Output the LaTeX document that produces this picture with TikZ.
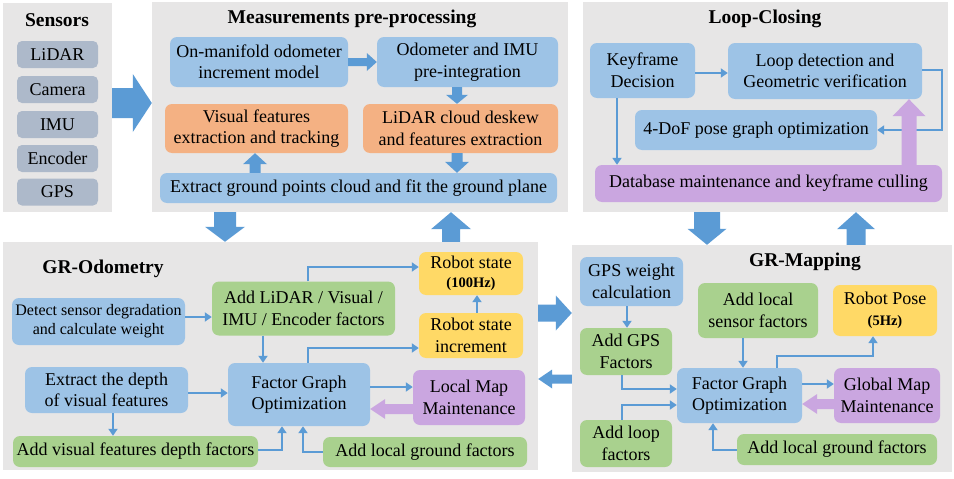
\documentclass[tikz,border=0pt]{standalone}
\usepackage{fontspec}
\setmainfont{Liberation Serif}
\usetikzlibrary{calc,arrows.meta}
\definecolor{panelgray}{HTML}{E7E6E6}
\definecolor{boxblue}{HTML}{9DC3E6}
\definecolor{boxorange}{HTML}{F4B183}
\definecolor{boxgreen}{HTML}{A9D18E}
\definecolor{boxyellow}{HTML}{FFD966}
\definecolor{boxpurple}{HTML}{CAA6E0}
\definecolor{sensorbox}{HTML}{ADB9CA}
\definecolor{arrowblue}{HTML}{5B9BD5}
\newcommand\bigarrow[6]{% #1 colour, #2 from, #3 to, #4 half shaft, #5 half head, #6 head length
  \coordinate (baA) at (#2);
  \coordinate (baB) at (#3);
  \coordinate (baC) at ($(baB)!#6!(baA)$);
  \fill[#1] ($(baA)!#4!90:(baB)$) -- ($(baC)!#4!90:(baB)$) -- ($(baC)!#5!90:(baB)$)
    -- (baB) -- ($(baC)!#5!-90:(baB)$) -- ($(baC)!#4!-90:(baB)$) -- ($(baA)!#4!-90:(baB)$) -- cycle;
}
\tikzset{
  panelbg/.style={fill=panelgray, draw=none, inner sep=0pt},
  ttl/.style={font=\bfseries\fontsize{19.5}{22}\selectfont, inner sep=0pt},
  bx/.style={rounded corners=7pt, inner sep=1pt, align=center, draw=none,
    font=\fontsize{18}{21.5}\selectfont},
  bluebx/.style={bx, fill=boxblue},
  orangebx/.style={bx, fill=boxorange},
  greenbx/.style={bx, fill=boxgreen},
  yellowbx/.style={bx, fill=boxyellow},
  purplebx/.style={bx, fill=boxpurple},
  sensbx/.style={bx, fill=sensorbox, rounded corners=5pt, minimum width=81pt, minimum height=27pt},
  conn/.style={draw=arrowblue, line width=2.4pt, -{Triangle[length=7pt,width=9pt]}},
}
\begin{document}
\begin{tikzpicture}[x=1pt,y=-1pt]
\useasboundingbox (0,0) rectangle (954,479);
\fill[white] (0,0) rectangle (954,479);

% ---------------- panels
\node[panelbg, minimum width=109pt, minimum height=209pt] (sens) at (57.5,107.5) {};
\node[panelbg, minimum width=416pt, minimum height=210pt] (mp) at (360,107) {};
\node[panelbg, minimum width=365pt, minimum height=210pt] (lc) at (765.5,107) {};
\node[panelbg, minimum width=535pt, minimum height=228pt] (odo) at (270.5,356) {};
\node[panelbg, minimum width=380pt, minimum height=227pt] (map) at (762,358.5) {};

% ---------------- titles
\node[ttl] (tsens) at (57,20) {Sensors};
\node[ttl] (tmp) at (352,19) {Measurements pre-processing};
\node[ttl] (tlc) at (765,19) {Loop-Closing};
\node[ttl] (todo) at (103,269) {GR-Odometry};
\node[ttl] (tmap) at (805,262) {GR-Mapping};

% ---------------- sensors
\node[sensbx] (lidar) at (57.5,54.5) {LiDAR};
\node[sensbx] (camera) at (57.5,89.5) {Camera};
\node[sensbx] (imu) at (57.5,124.5) {IMU};
\node[sensbx] (enc) at (57.5,158.5) {Encoder};
\node[sensbx] (gps) at (57.5,192) {GPS};

% ---------------- measurements pre-processing
\node[bluebx, minimum width=178pt, minimum height=50pt] (onm) at (259,62) {On-manifold odometer\\increment model};
\node[bluebx, minimum width=181pt, minimum height=50pt] (odoimu) at (467.5,62) {Odometer and IMU\\pre-integration};
\node[orangebx, minimum width=183pt, minimum height=49pt] (vis) at (256.5,128.5) {Visual features\\extraction and tracking};
\node[orangebx, minimum width=195pt, minimum height=49pt] (lid) at (460.5,128.5) {LiDAR cloud deskew\\and features extraction};
\node[bluebx, minimum width=397pt, minimum height=30pt] (ext) at (358.5,188) {Extract ground points cloud and fit the ground plane};

\bigarrow{arrowblue}{onm.east |- 0,62}{odoimu.west |- 0,62}{4pt}{9pt}{10pt}
\bigarrow{arrowblue}{odoimu.south -| 457,0}{lid.north -| 457,0}{5pt}{11pt}{9pt}
\bigarrow{arrowblue}{lid.south -| 457,0}{ext.north -| 457,0}{5.5pt}{12pt}{11pt}
\bigarrow{arrowblue}{ext.north -| 255,0}{vis.south -| 255,0}{5.5pt}{12pt}{11pt}

% ---------------- loop closing
\node[bluebx, minimum width=105pt, minimum height=55pt] (key) at (642.5,70.5) {Keyframe\\Decision};
\node[bluebx, minimum width=194pt, minimum height=56pt] (loop) at (825,71) {Loop detection and\\Geometric verification};
\node[bluebx, minimum width=242pt, minimum height=40pt] (dof) at (756,130) {4-DoF pose graph optimization};
\node[purplebx, minimum width=347pt, minimum height=37pt] (db) at (768.5,183.5) {Database maintenance and keyframe culling};

\draw[conn] (key.east |- 0,73) -- (loop.west |- 0,73);
\draw[conn] (loop.east |- 0,70) -- (db.east |- 0,70) |- (dof.east |- 0,130);
\draw[conn] (key.south -| 617,0) -- (db.north -| 617,0);
\bigarrow{boxpurple}{db.north -| 909,0}{loop.south -| 909,0}{7.5pt}{16.5pt}{17pt}

% ---------------- GR-Odometry
\node[bluebx, minimum width=173pt, minimum height=47pt, font=\fontsize{16}{19}\selectfont] (det) at (98.5,321.5) {Detect sensor degradation\\and calculate weight};
\node[greenbx, minimum width=183pt, minimum height=54pt] (addl) at (303.5,308.5) {Add LiDAR / Visual /\\IMU / Encoder factors};
\node[bluebx, minimum width=163pt, minimum height=46pt] (dep) at (106.5,390) {Extract the depth\\of visual features};
\node[bluebx, minimum width=142pt, minimum height=63pt] (fgoa) at (299,394.5) {Factor Graph\\Optimization};
\node[greenbx, minimum width=245pt, minimum height=31pt] (vdf) at (135.5,451.5) {Add visual features depth factors};
\node[yellowbx, minimum width=104pt, minimum height=43pt] (rs) at (471,273.5) {Robot state\\[-3pt]{\bfseries\fontsize{14.5}{17}\selectfont (100Hz)}};
\node[yellowbx, minimum width=104pt, minimum height=45pt] (rsi) at (471,335.5) {Robot state\\increment};
\node[purplebx, minimum width=112pt, minimum height=55pt] (lmm) at (469,397.5) {Local Map\\Maintenance};
\node[greenbx, minimum width=204pt, minimum height=30pt] (lgfa) at (425,452) {Add local ground factors};

\draw[conn] (det.east |- 0,317) -- (addl.west |- 0,317);
\draw[conn] (dep.east |- 0,393) -- (fgoa.west |- 0,393);
\draw[conn] (dep.south -| 113,0) -- (vdf.north -| 113,0);
\draw[conn] (vdf.east |- 0,450) -| (fgoa.south -| 282,0);
\draw[conn] (addl.south -| 263,0) -- (fgoa.north -| 263,0);
\draw[conn] (addl.north -| 308,0) |- (rs.west |- 0,267);
\draw[conn] (fgoa.north -| 308,0) |- (rsi.west |- 0,348);
\draw[conn] (rsi.north -| 477,0) -- (rs.south -| 477,0);
\draw[conn] (fgoa.east |- 0,387) -- (lmm.west |- 0,387);
\draw[conn] (lgfa.west |- 0,452) -| (fgoa.south -| 303,0);
\bigarrow{boxpurple}{lmm.west |- 0,409}{fgoa.east |- 0,409}{5pt}{10pt}{15pt}

% ---------------- GR-Mapping
\node[bluebx, minimum width=103pt, minimum height=49pt] (gpsw) at (631.5,281.5) {GPS weight\\calculation};
\node[greenbx, minimum width=92pt, minimum height=47pt] (agps) at (626,351.5) {Add GPS\\Factors};
\node[greenbx, minimum width=92pt, minimum height=47pt] (aloop) at (626,443.5) {Add loop\\factors};
\node[greenbx, minimum width=120pt, minimum height=55pt] (als) at (758,310.5) {Add local\\sensor factors};
\node[yellowbx, minimum width=104pt, minimum height=51pt] (rp) at (885,310.5) {Robot Pose\\[-1pt]{\bfseries\fontsize{14.5}{17}\selectfont (5Hz)}};
\node[bluebx, minimum width=125pt, minimum height=55pt] (fgob) at (739.5,395.5) {Factor Graph\\Optimization};
\node[purplebx, minimum width=106pt, minimum height=55pt] (gmm) at (887,395.5) {Global Map\\Maintenance};
\node[greenbx, minimum width=200pt, minimum height=31pt] (lgfb) at (837,449.5) {Add local ground factors};

\draw[conn] (gpsw.south -| 627,0) -- (agps.north -| 627,0);
\draw[conn] (agps.south -| 622,0) |- (fgob.west |- 0,389);
\draw[conn] (aloop.north -| 622,0) |- (fgob.west |- 0,405);
\draw[conn] (als.south -| 743,0) -- (fgob.north -| 743,0);
\draw[conn] (fgob.north -| 777,0) |- (873,356) -- (rp.south -| 873,0);
\draw[conn] (fgob.east |- 0,384) -- (gmm.west |- 0,384);
\draw[conn] (lgfb.west |- 0,450) -| (fgob.south -| 713,0);
\bigarrow{boxpurple}{gmm.west |- 0,404}{fgob.east |- 0,404}{5pt}{10pt}{15pt}

% ---------------- arrows between panels
\bigarrow{arrowblue}{sens.east |- 0,103}{mp.west |- 0,103}{15pt}{29pt}{19pt}
\bigarrow{arrowblue}{mp.south -| 225,0}{odo.north -| 225,0}{11pt}{20pt}{15pt}
\bigarrow{arrowblue}{odo.north -| 451,0}{mp.south -| 451,0}{9pt}{20pt}{17pt}
\bigarrow{arrowblue}{odo.east |- 0,313}{map.west |- 0,313}{8.5pt}{17.5pt}{16pt}
\bigarrow{arrowblue}{map.west |- 0,379}{odo.east |- 0,379}{4.5pt}{9.5pt}{14pt}
\bigarrow{arrowblue}{lc.south -| 707,0}{map.north -| 707,0}{13pt}{19.5pt}{16pt}
\bigarrow{arrowblue}{map.north -| 856,0}{lc.south -| 856,0}{9.5pt}{19pt}{17pt}
\end{tikzpicture}
\end{document}
